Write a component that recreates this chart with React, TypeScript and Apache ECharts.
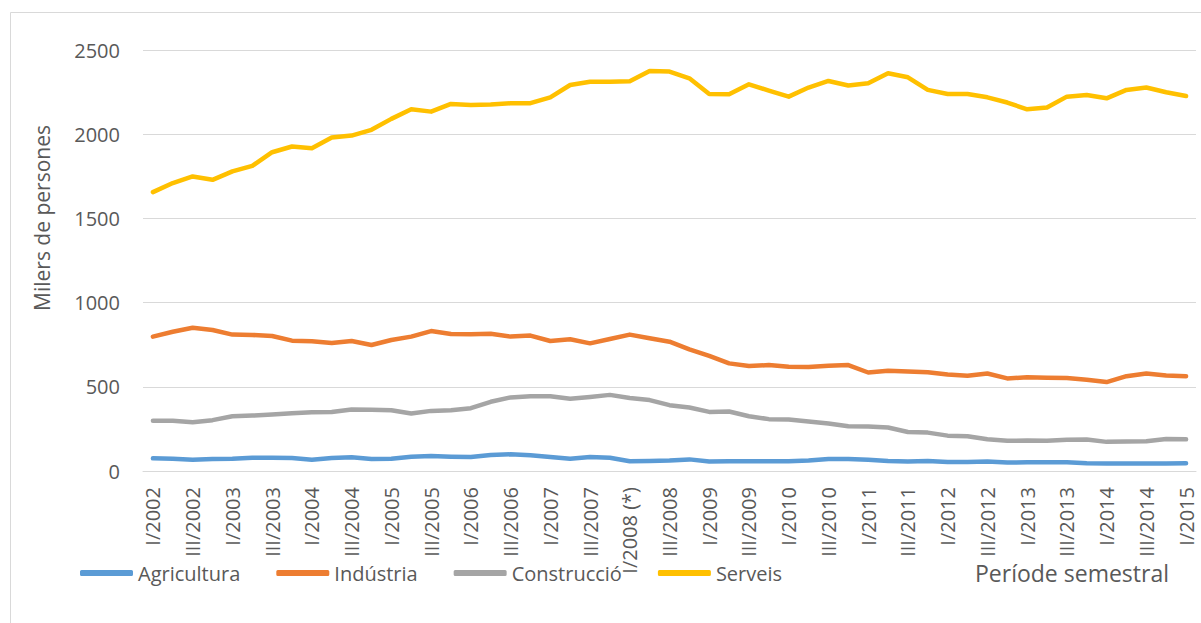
import React, { useEffect, useRef } from "react";
import * as echarts from "echarts";

const categories = [
  "I/2002", "II/2002", "III/2002", "IV/2002",
  "I/2003", "II/2003", "III/2003", "IV/2003",
  "I/2004", "II/2004", "III/2004", "IV/2004",
  "I/2005", "II/2005", "III/2005", "IV/2005",
  "I/2006", "II/2006", "III/2006", "IV/2006",
  "I/2007", "II/2007", "III/2007", "IV/2007",
  "I/2008 (*)", "II/2008", "III/2008", "IV/2008",
  "I/2009", "II/2009", "III/2009", "IV/2009",
  "I/2010", "II/2010", "III/2010", "IV/2010",
  "I/2011", "II/2011", "III/2011", "IV/2011",
  "I/2012", "II/2012", "III/2012", "IV/2012",
  "I/2013", "II/2013", "III/2013", "IV/2013",
  "I/2014", "II/2014", "III/2014", "IV/2014",
  "I/2015",
];

const agricultura = [75, 73, 67, 71, 73, 79, 79, 77, 67, 77, 81, 71, 73, 85, 89, 85, 83, 95, 99, 93, 83, 73, 83, 79, 58, 60, 63, 69, 56, 58, 58, 58, 58, 62, 71, 71, 67, 60, 56, 60, 54, 54, 56, 50, 52, 52, 52, 46, 44, 44, 44, 44, 46];
const industria = [798, 827, 851, 837, 810, 808, 802, 774, 770, 760, 772, 748, 778, 798, 831, 813, 812, 815, 798, 804, 772, 782, 758, 784, 810, 788, 768, 722, 683, 639, 623, 629, 619, 617, 625, 629, 585, 595, 591, 587, 573, 565, 579, 550, 556, 554, 552, 542, 528, 563, 579, 567, 563];
const construccio = [298, 298, 290, 302, 325, 329, 335, 343, 349, 351, 365, 363, 361, 341, 357, 361, 373, 411, 437, 444, 444, 429, 440, 452, 433, 421, 391, 377, 351, 353, 325, 308, 306, 294, 282, 266, 264, 258, 232, 228, 210, 206, 188, 179, 181, 179, 185, 187, 173, 175, 177, 190, 188];
const serveis = [1656, 1710, 1749, 1729, 1779, 1812, 1893, 1927, 1917, 1980, 1992, 2026, 2091, 2148, 2134, 2180, 2174, 2176, 2184, 2184, 2219, 2292, 2312, 2312, 2314, 2375, 2372, 2332, 2239, 2237, 2296, 2259, 2223, 2277, 2316, 2289, 2302, 2362, 2338, 2263, 2239, 2239, 2219, 2188, 2148, 2158, 2223, 2233, 2213, 2263, 2277, 2249, 2227];

const seriesNames = ["Agricultura", "Indústria", "Construcció", "Serveis"];
const seriesColors = ["#5B9BD5", "#ED7D31", "#A5A5A5", "#FFC000"];
const seriesData = [agricultura, industria, construccio, serveis];

const yTitle = "Milers de persones";
const xTitle = "Període semestral";

const FONT = "'Open Sans', sans-serif";
const TXT = "#595959";

export default function App() {
  const ref = useRef<HTMLDivElement>(null);
  useEffect(() => {
    document.body.style.margin = "0";
    const chart = echarts.init(ref.current!, null, { renderer: "svg" });
    chart.setOption({
      animation: false,
      backgroundColor: "#ffffff",
      textStyle: { fontFamily: FONT },
      grid: { left: 143, right: 5, top: 50, bottom: 152, containLabel: false },
      legend: {
        left: 75,
        top: 558,
        icon: "roundRect",
        itemWidth: 53,
        itemHeight: 6,
        itemGap: 36,
        textStyle: { fontSize: 20, color: TXT, fontFamily: FONT },
        data: seriesNames,
      },
      xAxis: {
        type: "category",
        data: categories,
        boundaryGap: true,
        axisLine: { lineStyle: { color: "#d9d9d9", width: 1 } },
        axisTick: { show: false },
        axisLabel: {
          rotate: 90,
          interval: 1,
          margin: 16,
          fontSize: 20,
          lineHeight: 20,
          color: TXT,
          fontFamily: FONT,
        },
      },
      yAxis: {
        type: "value",
        min: 0,
        max: 2500,
        interval: 500,
        axisLine: { show: false },
        axisTick: { show: false },
        splitLine: { lineStyle: { color: "#d9d9d9", width: 1 } },
        axisLabel: {
          margin: 23,
          fontSize: 20,
          color: TXT,
          fontFamily: FONT,
          formatter: (v: number) => String(v),
        },
      },
      graphic: [
        {
          type: "rect",
          shape: { x: 10.5, y: 12.5, width: 1200, height: 620 },
          style: { fill: "none", stroke: "#d9d9d9", lineWidth: 1 },
          silent: true,
          z: -10,
        },
        {
          type: "text",
          x: 42,
          y: 218,
          rotation: Math.PI / 2,
          style: {
            text: yTitle,
            fontSize: 21,
            fontFamily: FONT,
            fill: TXT,
            textAlign: "center",
            textVerticalAlign: "middle",
          },
        },
        {
          type: "text",
          x: 975,
          y: 573,
          style: {
            text: xTitle,
            fontSize: 23,
            fontFamily: FONT,
            fill: TXT,
            textAlign: "left",
            textVerticalAlign: "middle",
          },
        },
      ],
      series: seriesNames.map((name, i) => ({
        name,
        type: "line",
        data: seriesData[i],
        symbol: "none",
        color: seriesColors[i],
        lineStyle: { color: seriesColors[i], width: 4.5, cap: "round", join: "round" },
        itemStyle: { color: seriesColors[i] },
      })),
    });
    return () => chart.dispose();
  }, []);
  return <div ref={ref} style={{ width: 1201, height: 623 }} />;
}
